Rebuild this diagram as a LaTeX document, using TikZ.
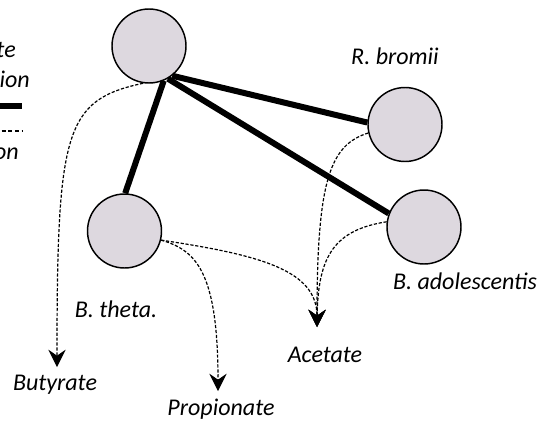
\documentclass[tikz,border=0pt]{standalone}
\usepackage{fontspec}
\setmainfont{Carlito}
\usetikzlibrary{arrows.meta}
\definecolor{cellfill}{RGB}{221,216,223}
\begin{document}
\begin{tikzpicture}[x=0.75pt,y=-0.75pt,
  cell/.style={circle,draw=black,line width=1.1pt,fill=cellfill,minimum size=55.5pt,inner sep=0pt},
  lbl/.style={font=\fontsize{18}{21}\selectfont\itshape,inner sep=0pt,anchor=base},
  strong/.style={line width=4.5pt},
  flow/.style={line width=0.9pt,dash pattern=on 2.4pt off 1.3pt,-{Stealth[length=13pt,width=13pt,inset=4.5pt]}}]
\useasboundingbox (0,0) rectangle (540,422);
\clip (0,0) rectangle (540,422);
% legend
\node[lbl,anchor=base east] (lg1) at (16,57) {te};
\node[lbl,anchor=base east] (lg2) at (30,87) {ion};
\node[lbl,anchor=base east] (lg3) at (19,159) {on};
\coordinate (la1) at (-5,106);
\coordinate (la2) at (22,106);
\coordinate (lb1) at (-5,131);
\coordinate (lb2) at (22,131);
\draw[line width=4.2pt] (la1) -- (la2);
\draw[line width=0.9pt,dash pattern=on 3pt off 2pt] (lb1) -- (lb2);
% cells
\node[cell] (top) at (149,46) {};
\node[cell] (rb) at (405,124.5) {};
\node[cell] (ba) at (424,227) {};
\node[cell] (bt) at (124.5,231) {};
% labels
\node[lbl] (rbl) at (395,64) {R. bromii};
\node[lbl] (bal) at (465,289) {B. adolescentis};
\node[lbl] (btl) at (116,317) {B. theta.};
\node[lbl] (acl) at (325,362) {Acetate};
\node[lbl] (bul) at (55,390) {Butyrate};
\node[lbl] (prl) at (221,415) {Propionate};
% arrow targets
\coordinate (but) at (57,367);
\coordinate (pro) at (218,391);
\coordinate (ace) at (317,327);
% strong interactions
\draw[strong] (top.293) -- (bt.89);
\draw[strong] (top.308) -- (rb.177);
\draw[strong] (top.300) -- (ba.159);
% metabolite flows
\draw[flow] (top.261) .. controls (65,100) and (57,130) .. (but);
\draw[flow] (bt.346) .. controls (195,250) and (218,270) .. (pro);
\draw[flow] (bt.346) .. controls (260,255) and (317,270) .. (ace);
\draw[flow] (rb.193) .. controls (330,145) and (317,180) .. (ace);
\draw[flow] (ba.172) .. controls (335,230) and (318,255) .. (ace);
\end{tikzpicture}
\end{document}
